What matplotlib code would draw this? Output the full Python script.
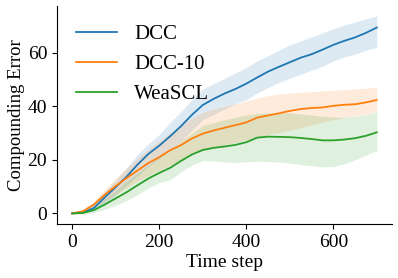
import numpy as np
import matplotlib.pyplot as plt

plt.rcParams['font.family'] = ['Liberation Serif', 'DejaVu Serif']

steps = np.arange(0, 701, 25)

dcc = [0.0, 0.3, 2.0, 6.0, 9.8, 13.7, 18.2, 22.2, 25.3, 28.8, 32.6, 36.8, 40.5, 42.8, 44.8,
       46.5, 48.5, 50.8, 53.0, 54.8, 56.5, 58.2, 59.5, 61.2, 63.0, 64.5, 65.8, 67.5, 69.5]
dcc_hi = [0.3, 1.0, 3.5, 8.0, 12.5, 17.0, 22.0, 26.0, 29.5, 34.0, 38.0, 42.5, 46.5, 48.5, 50.5,
          52.5, 54.5, 57.0, 59.0, 61.0, 63.0, 64.5, 66.0, 67.5, 69.0, 70.5, 71.5, 72.8, 73.8]
dcc_lo = [-0.3, 0.0, 1.0, 3.5, 7.0, 10.5, 14.0, 17.5, 20.5, 24.0, 27.0, 31.0, 35.0, 37.0, 39.0,
          41.0, 42.5, 45.0, 47.0, 49.0, 50.5, 52.0, 53.5, 55.0, 57.0, 58.5, 59.5, 61.0, 62.0]

dcc10 = [0.0, 0.8, 3.3, 7.0, 10.2, 13.2, 16.0, 18.8, 21.0, 23.6, 25.5, 28.0, 29.8, 31.0, 32.0,
         33.0, 34.0, 35.8, 36.6, 37.4, 38.3, 39.0, 39.4, 39.6, 40.2, 40.6, 40.8, 41.5, 42.4]
dcc10_hi = [0.3, 1.5, 4.5, 9.0, 13.0, 17.0, 20.5, 24.0, 27.0, 30.0, 33.0, 35.5, 37.8, 39.0, 40.0,
            41.0, 42.0, 43.0, 44.0, 44.6, 45.0, 45.3, 45.5, 45.8, 46.0, 46.3, 46.5, 46.8, 47.2]
dcc10_lo = [-0.3, 0.3, 2.0, 4.5, 7.0, 9.5, 12.0, 14.0, 16.0, 18.0, 20.0, 22.0, 23.5, 24.5, 25.5,
            26.5, 27.5, 28.5, 29.5, 30.2, 31.0, 32.0, 33.0, 34.0, 35.0, 35.8, 36.5, 37.2, 38.0]

weascl = [0.0, 0.2, 1.2, 3.3, 5.6, 7.9, 10.5, 13.0, 15.1, 17.0, 19.6, 22.0, 23.7, 24.5, 25.0,
          25.6, 26.6, 28.3, 28.7, 28.6, 28.5, 28.2, 27.8, 27.3, 27.3, 27.6, 28.1, 29.0, 30.3]
weascl_hi = [0.2, 0.8, 2.5, 5.5, 8.5, 12.0, 15.0, 18.0, 21.0, 24.0, 27.0, 30.0, 32.8, 34.0, 35.0,
             36.0, 36.8, 37.3, 37.6, 37.7, 37.6, 37.2, 36.8, 36.3, 36.0, 36.0, 36.3, 37.0, 37.9]
weascl_lo = [-0.3, -0.2, 0.3, 1.5, 3.0, 4.8, 7.0, 9.5, 11.5, 12.5, 15.5, 18.0, 19.8, 19.6, 19.2,
             19.0, 19.3, 19.5, 19.4, 19.2, 18.8, 18.2, 17.8, 17.4, 17.5, 18.5, 20.0, 21.8, 23.5]

series = [('DCC', dcc, dcc_lo, dcc_hi, 'tab:blue'),
          ('DCC-10', dcc10, dcc10_lo, dcc10_hi, 'tab:orange'),
          ('WeaSCL', weascl, weascl_lo, weascl_hi, 'tab:green')]

fig = plt.figure(figsize=(3.98, 2.78), dpi=100)
ax = fig.add_axes([0.143, 0.194, 0.842, 0.784])
for name, mean, lo, hi, color in series:
    ax.plot(steps, mean, color=color, lw=1.3, label=name)
    ax.fill_between(steps, lo, hi, color=color, alpha=0.15, lw=0)

ax.spines['top'].set_visible(False)
ax.spines['right'].set_visible(False)
ax.set_xticks([0, 200, 400, 600])
ax.set_yticks([0, 20, 40, 60])
ax.tick_params(labelsize=14)
ax.set_xlabel('Time step', fontsize=14, labelpad=2)
ax.set_ylabel('Compounding Error', fontsize=13.5, labelpad=2)
ax.legend(loc='upper left', frameon=False, fontsize=15)
fig.savefig('out.png')
